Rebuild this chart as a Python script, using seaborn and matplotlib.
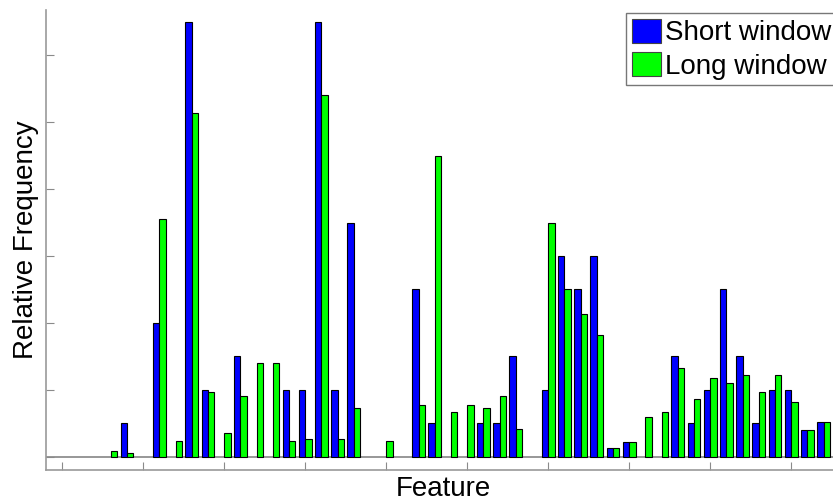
import numpy as np
import pandas as pd
import matplotlib
matplotlib.use("Agg")
import matplotlib.pyplot as plt
import seaborn as sns

# Relative frequency of each feature for the two window lengths
features = [f"F{i + 1}" for i in range(48)]
short_window = [
    0, 0, 0, 0, 0.010, 0, 0.040, 0, 0.130, 0.020,
    0, 0.030, 0, 0, 0.020, 0.020, 0.130, 0.020, 0.070, 0,
    0, 0, 0.050, 0.010, 0, 0, 0.010, 0.010, 0.030, 0,
    0.020, 0.060, 0.050, 0.060, 0.0025, 0.0044, 0, 0, 0.030, 0.010,
    0.020, 0.050, 0.030, 0.010, 0.020, 0.020, 0.008, 0.0104,
]
long_window = [
    0, 0, 0, 0.0018, 0.0010, 0, 0.0710, 0.0047, 0.1028, 0.0192,
    0.0072, 0.0182, 0.0280, 0.0280, 0.0047, 0.0054, 0.1082, 0.0054, 0.0144, 0,
    0.0047, 0, 0.0154, 0.0900, 0.0134, 0.0154, 0.0144, 0.0182, 0.0082, 0,
    0.0700, 0.0500, 0.0428, 0.0364, 0.0025, 0.0044, 0.0120, 0.0134, 0.0264, 0.0172,
    0.0236, 0.0220, 0.0244, 0.0192, 0.0244, 0.0164, 0.0080, 0.0104,
]
series_names = ["Short window", "Long window"]
series_colors = {"Short window": "#0000ff", "Long window": "#00ff00"}

df = pd.DataFrame({
    "Feature": features * 2,
    "Frequency": short_window + long_window,
    "Window": [series_names[0]] * len(features) + [series_names[1]] * len(features),
})

sns.set_style("white")
plt.rcParams["font.family"] = ["Liberation Sans", "DejaVu Sans"]
plt.rcParams["text.color"] = "black"
plt.rcParams["axes.labelcolor"] = "black"

W, H = 833, 504
fig = plt.figure(figsize=(W / 100, H / 100), dpi=100)
px_per_cat = 16.2
ax = fig.add_axes([46 / W, (H - 470) / H, 49 * px_per_cat / W, 460 / H])

sns.barplot(
    data=df, x="Feature", y="Frequency", hue="Window", order=features,
    hue_order=series_names, palette=series_colors, width=0.8,
    edgecolor="black", linewidth=0.8, saturation=1, ax=ax, legend=False,
)
for bar in ax.patches:
    if bar.get_height() == 0:
        bar.set_visible(False)

ax.axhline(0, color="#8f8f8f", lw=1.3, zorder=0.5)

ax.set_xlim(-1, 48)
ax.set_ylim(-0.004, 0.1336)
ax.set_xticks(np.arange(0, 48, 5))
ax.set_xticklabels([])
ax.set_yticks(np.arange(0, 0.121, 0.02))
ax.set_yticklabels([])
ax.tick_params(axis="both", direction="in", length=5.8, width=0.8,
               color="#8a8a8a", bottom=True, left=True)

for side in ("top", "right"):
    ax.spines[side].set_visible(False)
for side in ("left", "bottom"):
    ax.spines[side].set_color("#9a9a9a")
    ax.spines[side].set_linewidth(1.2)

ax.set_xlabel("Feature", fontsize=20, labelpad=1)
ax.set_ylabel("Relative Frequency", fontsize=20, labelpad=1.5)

handles = [
    matplotlib.patches.Patch(facecolor=series_colors[n], edgecolor="#444444", lw=0.8)
    for n in series_names
]
fig.legend(
    handles, series_names, loc="upper left",
    bbox_to_anchor=(626 / W, 1 - 13 / H), fontsize=20,
    handlelength=1.05, handleheight=0.95, handletextpad=0.15,
    borderpad=0.2, labelspacing=0.22, borderaxespad=0,
    frameon=True, fancybox=False, edgecolor="#777777", framealpha=1,
)

fig.savefig("out.png", dpi=100)
